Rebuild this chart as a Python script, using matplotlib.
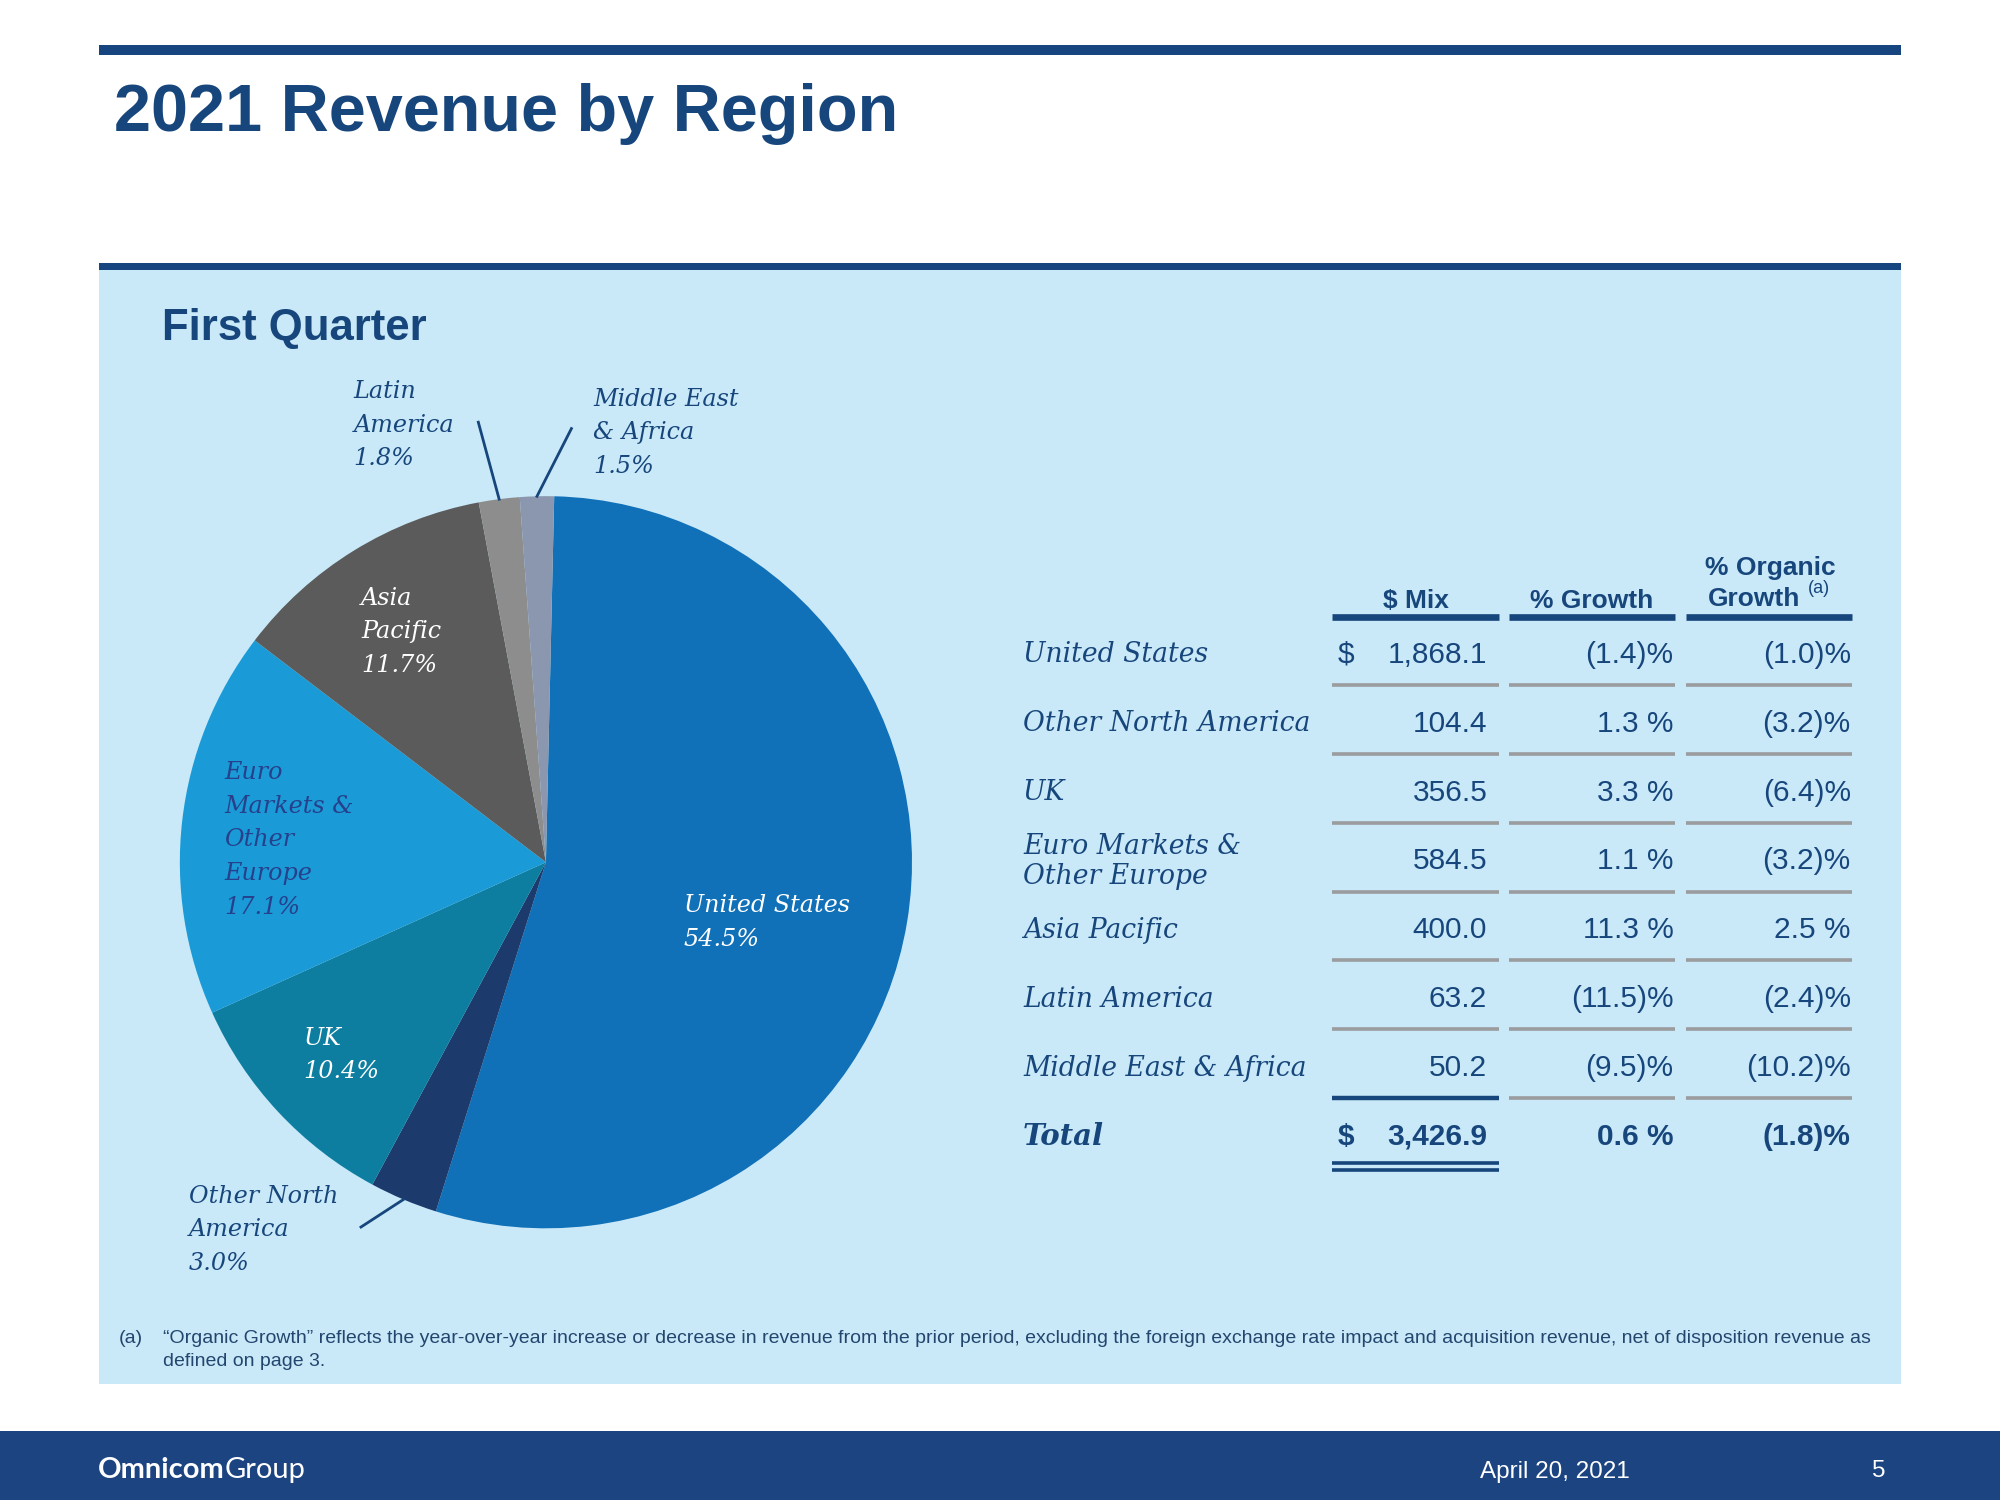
import numpy as np
import matplotlib.pyplot as plt
from matplotlib.patches import Rectangle

# ---------- data ----------
regions = ['United States', 'Other North America', 'UK', 'Euro Markets &\nOther Europe',
           'Asia Pacific', 'Latin America', 'Middle East & Africa']
pie_names = ['United States', 'Other North\nAmerica', 'UK', 'Euro\nMarkets &\nOther\nEurope',
             'Asia\nPacific', 'Latin\nAmerica', 'Middle East\n& Africa']
share = [54.5, 3.0, 10.4, 17.1, 11.7, 1.8, 1.5]
mix = [1868.1, 104.4, 356.5, 584.5, 400.0, 63.2, 50.2]
growth = [-1.4, 1.3, 3.3, 1.1, 11.3, -11.5, -9.5]
organic = [-1.0, -3.2, -6.4, -3.2, 2.5, -2.4, -10.2]
total_mix = 3426.9
total_growth = 0.6
total_organic = -1.8

# ---------- style ----------
NAVY = '#17467c'
BAR = '#17457f'
PANEL = '#c9e9f8'
GRAY = '#9a9c9e'
slice_colors = ['#1070b8', '#1d3a6c', '#0e7ea0', '#1a9bd7', '#5b5b5b', '#8d8d8d', '#8a97ae']
label_colors = ['white', NAVY, 'white', '#26408c', 'white', NAVY, NAVY]
label_pos = [(536, 708), (148, 936), (238, 812), (176, 604), (283, 467), (277, 305), (465, 311)]
leader_from = {1: (283, 962), 5: (375, 331), 6: (448, 336)}

SANS = 'Liberation Sans'
SERIF = 'DejaVu Serif'
W, H = 1568, 1176          # layout grid (slide units)
CX, CY, R = 428, 676, 287  # pie centre / radius in slide units

fig = plt.figure(figsize=(20, 15), dpi=100)

bg = fig.add_axes([0, 0, 1, 1])
bg.set_xlim(0, W)
bg.set_ylim(H, 0)
bg.axis('off')

# slide furniture
bg.add_patch(Rectangle((78, 35), 1412, 8, color=BAR, lw=0))
bg.add_patch(Rectangle((78, 211), 1412, 874, color=PANEL, lw=0))
bg.add_patch(Rectangle((78, 206), 1412, 6, color=BAR, lw=0))
bg.add_patch(Rectangle((0, 1122), W, 54, color='#1c4481', lw=0))

# ---------- pie ----------
ax_pie = fig.add_axes([(CX - R) / W, 1 - (CY + R) / H, 2 * R / W, 2 * R / H])
wedges, _ = ax_pie.pie(share, colors=slice_colors, startangle=88.7, counterclock=False,
                       radius=1, wedgeprops=dict(linewidth=0))
ax_pie.set_xlim(-1, 1)
ax_pie.set_ylim(-1, 1)
ax_pie.axis('off')

fg = fig.add_axes([0, 0, 1, 1], zorder=5)
fg.set_xlim(0, W)
fg.set_ylim(H, 0)
fg.axis('off')


def lines(ax, x, y, text, step, **kw):
    for i, line in enumerate(text.split('\n')):
        ax.text(x, y + i * step, line, va='center_baseline', **kw)


fg.text(89, 84, '2021 Revenue by Region', fontsize=48, fontweight='bold', color=NAVY,
        family=SANS, va='center_baseline')
fg.text(127, 254, 'First Quarter', fontsize=31.5, fontweight='bold', color=NAVY,
        family=SANS, va='center_baseline')

# pie labels
for i, name in enumerate(pie_names):
    x, y = label_pos[i]
    lines(fg, x, y, f'{name}\n{share[i]:.1f}%', 26.3, fontsize=17.2, style='italic',
          family=SERIF, color=label_colors[i])

for i, (lx, ly) in leader_from.items():
    w = wedges[i]
    th = np.deg2rad((w.theta1 + w.theta2) / 2)
    px, py = CX + R * np.cos(th), CY - R * np.sin(th)
    fg.plot([lx, px], [ly, py], color=NAVY, lw=2.0)

# ---------- table ----------
col_left = [1044, 1183, 1322]
col_right = [1175, 1313, 1452]
row_y0, row_h = 510, 54


def fmt_pct(v):
    return f'({abs(v):.1f})%' if v < 0 else f'{v:.1f} %'


hdr = dict(fontsize=19, fontweight='bold', color=NAVY, family=SANS, ha='center',
           va='center_baseline')
fg.text(1110, 469, '$ Mix', **hdr)
fg.text(1248, 469, '% Growth', **hdr)
fg.text(1388, 443, '% Organic', **hdr)
fg.text(1375, 468, 'Growth', **hdr)
fg.text(1417, 460, '(a)', fontsize=13, color=NAVY, family=SANS, va='center_baseline')
for a, b in zip(col_left, col_right):
    fg.plot([a, b], [484, 484], color=NAVY, lw=4.8, solid_capstyle='butt')

val = dict(fontsize=21.5, color=NAVY, family=SANS, ha='right', va='center_baseline')
for i, name in enumerate(regions):
    y = row_y0 + i * row_h
    n = name.count('\n')
    lines(fg, 802, y - 12 * n + 1, name, 24, fontsize=19.2, style='italic', family=SERIF,
          color=NAVY)
    fg.text(col_right[0] - 9, y + 1, f'{mix[i]:,.1f}', **val)
    fg.text(col_right[1] - 1, y + 1, fmt_pct(growth[i]), **val)
    fg.text(col_right[2] - 1, y + 1, fmt_pct(organic[i]), **val)
    if i == 0:
        fg.text(1049, y + 1, '$', fontsize=21.5, color=NAVY, family=SANS,
                va='center_baseline')
    sep_y = y + row_h / 2
    for j, (a, b) in enumerate(zip(col_left, col_right)):
        last = i == len(regions) - 1 and j == 0
        fg.plot([a, b], [sep_y, sep_y], color=NAVY if last else GRAY,
                lw=3.2 if last else 2.6, solid_capstyle='butt')

y = row_y0 + len(regions) * row_h
tot = dict(val, fontweight='bold')
fg.text(802, y + 1, 'Total', fontsize=21, style='italic', fontweight='bold', family=SERIF,
        color=NAVY, va='center_baseline')
fg.text(1049, y + 1, '$', fontsize=21.5, fontweight='bold', color=NAVY, family=SANS,
        va='center_baseline')
fg.text(col_right[0] - 9, y + 1, f'{total_mix:,.1f}', **tot)
fg.text(col_right[1] - 1, y + 1, fmt_pct(total_growth), **tot)
fg.text(col_right[2] - 1, y + 1, fmt_pct(total_organic), **tot)
for dy in (912, 917):
    fg.plot([col_left[0], col_right[0]], [dy, dy], color=NAVY, lw=2.6, solid_capstyle='butt')

# ---------- footnote & footer ----------
note = dict(fontsize=14, color='#23466f', family=SANS, va='center_baseline')
fg.text(93, 1048, '(a)', **note)
fg.text(128, 1048, '\u201cOrganic Growth\u201d reflects the year-over-year increase or decrease in '
        'revenue from the prior period, excluding the foreign exchange rate impact and '
        'acquisition revenue, net of disposition revenue as', **note)
fg.text(128, 1066, 'defined on page 3.', **note)

brand = fg.text(77, 1163, 'Omnicom', fontsize=21, fontweight='bold', color='white',
                family='Lato', va='bottom')
fg.annotate('Group', xy=(1, 0), xycoords=brand, fontsize=21, color='white',
            family='Lato', va='bottom', ha='left')
fg.text(1219, 1152, 'April 20, 2021', fontsize=17.5, color='white', family=SANS,
        ha='center', va='center_baseline')
fg.text(1473, 1151, '5', fontsize=17.5, color='white', family=SANS, ha='center',
        va='center_baseline')

fig.savefig('out.png', dpi=100, facecolor='white')
